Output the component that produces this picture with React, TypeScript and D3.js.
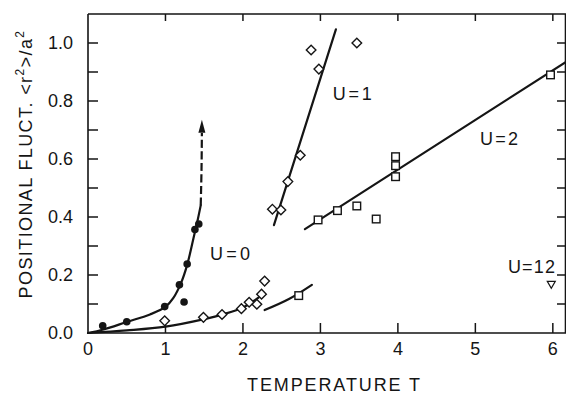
import * as d3 from "d3";

const W = 566;
const H = 395;
const M = { left: 88, right: 0, top: 14, bottom: 62 };

// U = 0, filled circles and its fitted curve (solid part, then dashed rise with arrow)
const u0Circles: [number, number][] = [
  [0.19, 0.025], [0.5, 0.039], [0.99, 0.091], [1.18, 0.166],
  [1.24, 0.107], [1.28, 0.238], [1.38, 0.357], [1.43, 0.376],
];
const u0CircleCurve: [number, number][] = [
  [0, 0.0], [0.2, 0.012], [0.5, 0.038], [0.8, 0.064], [1.0, 0.09],
  [1.1, 0.12], [1.2, 0.172], [1.28, 0.235], [1.36, 0.325], [1.42, 0.395], [1.455, 0.44],
];
const u0Dashed: [number, number][] = [[1.455, 0.44], [1.465, 0.56], [1.47, 0.69]];
const u0ArrowTip: [number, number] = [1.47, 0.735];

// U = 0, open diamonds and lower curve
const u0Diamonds: [number, number][] = [
  [0.99, 0.042], [1.49, 0.054], [1.73, 0.064], [1.98, 0.084],
  [2.08, 0.106], [2.18, 0.099], [2.24, 0.134], [2.28, 0.179],
];
const u0DiamondCurve: [number, number][] = [
  [0, 0.0], [0.5, 0.009], [1.0, 0.022], [1.5, 0.048], [1.75, 0.065], [2.0, 0.088], [2.2, 0.122],
];

// U = 1
const u1Diamonds: [number, number][] = [
  [2.38, 0.427], [2.49, 0.424], [2.58, 0.522], [2.74, 0.613],
  [2.98, 0.91], [2.88, 0.976], [3.47, 1.0],
];
const u1Line: [number, number][] = [[2.4, 0.372], [3.2, 1.047]];

// U = 2
const u2Squares: [number, number][] = [
  [2.72, 0.129], [2.97, 0.39], [3.22, 0.422], [3.47, 0.438], [3.72, 0.393],
  [3.97, 0.608], [3.97, 0.577], [3.97, 0.539], [5.97, 0.89],
];
const u2Line: [number, number][] = [[2.8, 0.358], [6.17, 0.935]];
const u2LowCurve: [number, number][] = [[2.28, 0.079], [2.6, 0.118], [2.89, 0.166]];

// U = 12
const u12Triangles: [number, number][] = [[5.98, 0.168]];

const labels = [
  { text: "U = 0", t: 1.574, v: 0.252, len: 40 },
  { text: "U = 1", t: 3.16, v: 0.803, len: 39 },
  { text: "U = 2", t: 5.06, v: 0.648, len: 38 },
  { text: "U=12", t: 5.42, v: 0.207, len: 47 },
];

const INK = "#151515";
const FONT = "'Liberation Sans', Arial, sans-serif";

export default function App() {
  const x = d3.scaleLinear().domain([0, 6.17]).range([M.left, W - M.right]);
  const y = d3.scaleLinear().domain([0, 1.1]).range([H - M.bottom, M.top]);
  const x0 = x.range()[0];
  const x1 = x.range()[1];
  const y0 = y.range()[0];
  const y1 = y.range()[1];

  const smooth = d3.line<[number, number]>().x((d) => x(d[0])).y((d) => y(d[1])).curve(d3.curveCatmullRom);
  const straight = d3.line<[number, number]>().x((d) => x(d[0])).y((d) => y(d[1]));

  const xTicks = x.ticks(6).filter((t) => t > 0);
  const yMinor = y.ticks(11).filter((t) => t > 0 && t < 1.05);
  const yMajor = y.ticks(5);
  const fmt = d3.format(".1f");

  const diamond = (cx: number, cy: number, r = 4.8) =>
    `M${cx},${cy - r}L${cx + r},${cy}L${cx},${cy + r}L${cx - r},${cy}Z`;
  const tipX = x(u0ArrowTip[0]);
  const tipY = y(u0ArrowTip[1]);

  return (
    <svg width={W} height={H} style={{ position: "absolute", left: 0, top: 0, background: "#fff" }} fontFamily={FONT}>
      {/* frame */}
      <path d={`M${x0},${y1}H${x1 + 2}M${x0},${y1}V${y0}H${x1 + 2}`} fill="none" stroke={INK} strokeWidth={1.6} />
      <line x1={x1 - 0.5} x2={x1 - 0.5} y1={y1} y2={y0} stroke={INK} strokeWidth={1.6} />

      {/* x ticks bottom and top */}
      {xTicks.map((t) => (
        <g key={`xt${t}`} stroke={INK} strokeWidth={1.5}>
          <line x1={x(t)} x2={x(t)} y1={y0} y2={y0 - 10} />
          <line x1={x(t)} x2={x(t)} y1={y1} y2={y1 + 7} />
        </g>
      ))}
      {x.ticks(6).map((t) => (
        <text key={`xl${t}`} x={x(t)} y={y0 + 22} textAnchor="middle" fontSize={18} fill={INK}>
          {t}
        </text>
      ))}

      {/* y ticks left and right */}
      {yMinor.map((t) => (
        <g key={`yt${t}`} stroke={INK} strokeWidth={1.5}>
          <line x1={x0} x2={x0 + 10} y1={y(t)} y2={y(t)} />
          <line x1={x1} x2={x1 - 9} y1={y(t)} y2={y(t)} />
        </g>
      ))}
      {yMajor.map((t) => (
        <text key={`yl${t}`} x={x0 - 15} y={y(t)} dy="0.36em" textAnchor="end" fontSize={18} fill={INK}>
          {fmt(t)}
        </text>
      ))}

      {/* axis titles */}
      <text x={247} y={391} fontSize={18} fill={INK} textLength={173} lengthAdjust="spacing">
        TEMPERATURE  T
      </text>
      <text transform="translate(32,164) rotate(-90)" textAnchor="middle" fontSize={18} fill={INK} letterSpacing={1.4}>
        POSITIONAL FLUCT. &lt;r<tspan fontSize={12} dy={-8}>2</tspan>
        <tspan dy={8}>&gt;/a</tspan>
        <tspan fontSize={12} dy={-8}>2</tspan>
      </text>

      {/* curves */}
      <g fill="none" stroke={INK} strokeWidth={2.2} strokeLinecap="round">
        <path d={smooth(u0CircleCurve) ?? ""} />
        <path d={smooth(u0Dashed) ?? ""} strokeDasharray="8 3.5" strokeLinecap="butt" />
        <path d={smooth(u0DiamondCurve) ?? ""} />
        <path d={straight(u1Line) ?? ""} />
        <path d={straight(u2Line) ?? ""} />
        <path d={smooth(u2LowCurve) ?? ""} />
      </g>
      <path d={`M${tipX},${tipY}L${tipX - 3.5},${tipY + 13}L${tipX + 3.5},${tipY + 13}Z`} fill={INK} />

      {/* markers */}
      {u0Circles.map((d, i) => (
        <circle key={`c${i}`} cx={x(d[0])} cy={y(d[1])} r={3.8} fill={INK} />
      ))}
      {[...u0Diamonds, ...u1Diamonds].map((d, i) => (
        <path key={`d${i}`} d={diamond(x(d[0]), y(d[1]))} fill="#fff" stroke={INK} strokeWidth={1.4} />
      ))}
      {u2Squares.map((d, i) => (
        <rect key={`s${i}`} x={x(d[0]) - 3.8} y={y(d[1]) - 3.8} width={7.6} height={7.6} fill="#fff" stroke={INK} strokeWidth={1.4} />
      ))}
      {u12Triangles.map((d, i) => {
        const cx = x(d[0]);
        const cy = y(d[1]);
        return (
          <path key={`t${i}`} d={`M${cx - 4},${cy - 3}L${cx + 4},${cy - 3}L${cx},${cy + 4}Z`} fill="#fff" stroke={INK} strokeWidth={1.2} />
        );
      })}

      {/* series labels */}
      {labels.map((l) => (
        <text key={l.text} x={x(l.t)} y={y(l.v)} fontSize={18} fill={INK} textLength={l.len} lengthAdjust="spacing">
          {l.text}
        </text>
      ))}
    </svg>
  );
}
